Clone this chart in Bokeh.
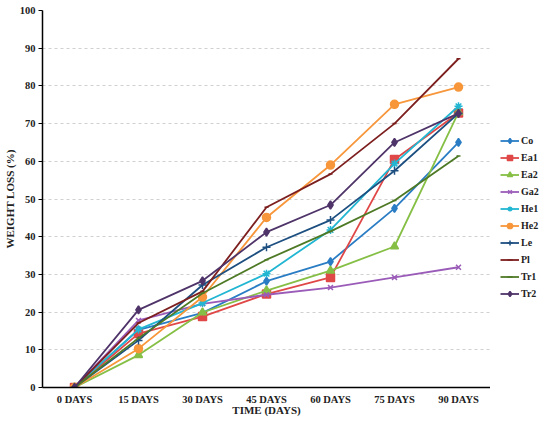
from bokeh.plotting import figure
from bokeh.layouts import row
from bokeh.models import Legend, LegendItem, FactorRange, SingleIntervalTicker, Range1d
from bokeh.embed import file_html
from bokeh.resources import INLINE

days = ["0 DAYS", "15 DAYS", "30 DAYS", "45 DAYS", "60 DAYS", "75 DAYS", "90 DAYS"]

co  = [0, 15.3, 19.8, 28.2, 33.4, 47.5, 65.0]
ea1 = [0, 14.3, 18.8, 24.8, 29.2, 60.5, 72.8]
ea2 = [0, 8.6, 19.9, 25.7, 31.0, 37.4, 73.0]
ga2 = [0, 17.8, 22.2, 24.6, 26.5, 29.2, 31.9]
he1 = [0, 15.4, 22.4, 30.2, 41.8, 59.4, 74.6]
he2 = [0, 10.3, 24.0, 45.1, 59.0, 75.1, 79.7]
le  = [0, 12.5, 27.2, 37.2, 44.4, 57.5, 72.7]
pl  = [0, 17.1, 25.5, 47.8, 56.6, 70.0, 87.2]
tr1 = [0, 13.1, 25.0, 33.9, 41.4, 49.6, 61.4]
tr2 = [0, 20.6, 28.3, 41.2, 48.4, 65.0, 72.7]

names = ["Co", "Ea1", "Ea2", "Ga2", "He1", "He2", "Le", "Pl", "Tr1", "Tr2"]
series = [co, ea1, ea2, ga2, he1, he2, le, pl, tr1, tr2]
colors = ["#2a7dc4", "#e04848", "#86bf45", "#9a5cb8", "#22b6d2", "#f7963a",
          "#1d4f80", "#7d1f1f", "#4e7a26", "#4f3469"]
markers = ["diamond", "square", "triangle", "x", "asterisk", "circle",
           "cross", "dash", "dash", "diamond"]
msizes = [8, 8, 8, 7, 8, 8, 8, 4, 4, 8]

FONT = "Liberation Serif"
H = 418

p = figure(width=490, height=H,
           x_range=FactorRange(*days, range_padding=0),
           y_range=Range1d(0, 100), output_backend="svg", toolbar_location=None,
           min_border_left=42, min_border_top=10, min_border_bottom=29, min_border_right=0)
p.outline_line_color = None
p.xgrid.grid_line_color = None
p.ygrid.grid_line_color = "#d0d0d0"
p.ygrid.grid_line_dash = "3 3"
p.ygrid.grid_line_width = 1
p.yaxis.ticker = SingleIntervalTicker(interval=10)
p.yaxis.minor_tick_line_color = None
p.yaxis.major_tick_in = 0
p.yaxis.major_tick_out = 4
for ax in (p.xaxis, p.yaxis):
    ax.axis_line_color = "black"
    ax.axis_line_width = 1.5
    ax.major_label_text_font = FONT
    ax.major_label_text_font_style = "bold"
    ax.major_label_text_font_size = "10.5px"
    ax.major_label_text_color = "#222222"
    ax.axis_label_text_font = FONT
    ax.axis_label_text_font_style = "bold"
    ax.axis_label_text_font_size = "11px"
    ax.axis_label_text_color = "#222222"
p.yaxis.major_tick_line_color = "black"
p.xaxis.major_tick_line_color = None
p.xaxis.minor_tick_line_color = None
p.xaxis.axis_label = "TIME (DAYS)"
p.yaxis.axis_label = "WEIGHT LOSS (%)"
p.xaxis.major_label_standoff = 0
p.xaxis.axis_label_standoff = -4
p.yaxis.major_label_standoff = 3
p.yaxis.axis_label_standoff = 1

for ys, c, m, s in zip(series, colors, markers, msizes):
    p.line(days, ys, line_color=c, line_width=1.8)
    p.scatter(days, ys, marker=m, size=s, line_color=c, fill_color=c, line_width=1.5)

# legend panel: same series, drawn outside its visible range so only the swatches show
lg = figure(width=52, height=H, x_range=FactorRange(*days), y_range=Range1d(200, 201),
            output_backend="svg", toolbar_location=None,
            x_axis_type=None, y_axis_type=None,
            min_border_left=0, min_border_right=0, min_border_top=0, min_border_bottom=0)
lg.outline_line_color = None
lg.xgrid.visible = False
lg.ygrid.visible = False
items = []
for name, ys, c, m, s in zip(names, series, colors, markers, msizes):
    ln = lg.line(days, ys, line_color=c, line_width=1.8)
    sc = lg.scatter(days, ys, marker=m, size=s, line_color=c, fill_color=c, line_width=1.5)
    items.append(LegendItem(label=name, renderers=[ln, sc]))
legend = Legend(items=items, location=(10, 87))
legend.border_line_color = None
legend.background_fill_alpha = 0
legend.label_text_font = FONT
legend.label_text_font_style = "bold"
legend.label_text_font_size = "10px"
legend.label_text_color = "#222222"
legend.glyph_width = 19
legend.glyph_height = 13
legend.label_height = 13
legend.label_standoff = 2
legend.spacing = 4
legend.padding = 0
legend.margin = 0
lg.add_layout(legend, "center")

layout = row(p, lg, spacing=0)
open("out.html", "w").write(file_html(layout, INLINE))
